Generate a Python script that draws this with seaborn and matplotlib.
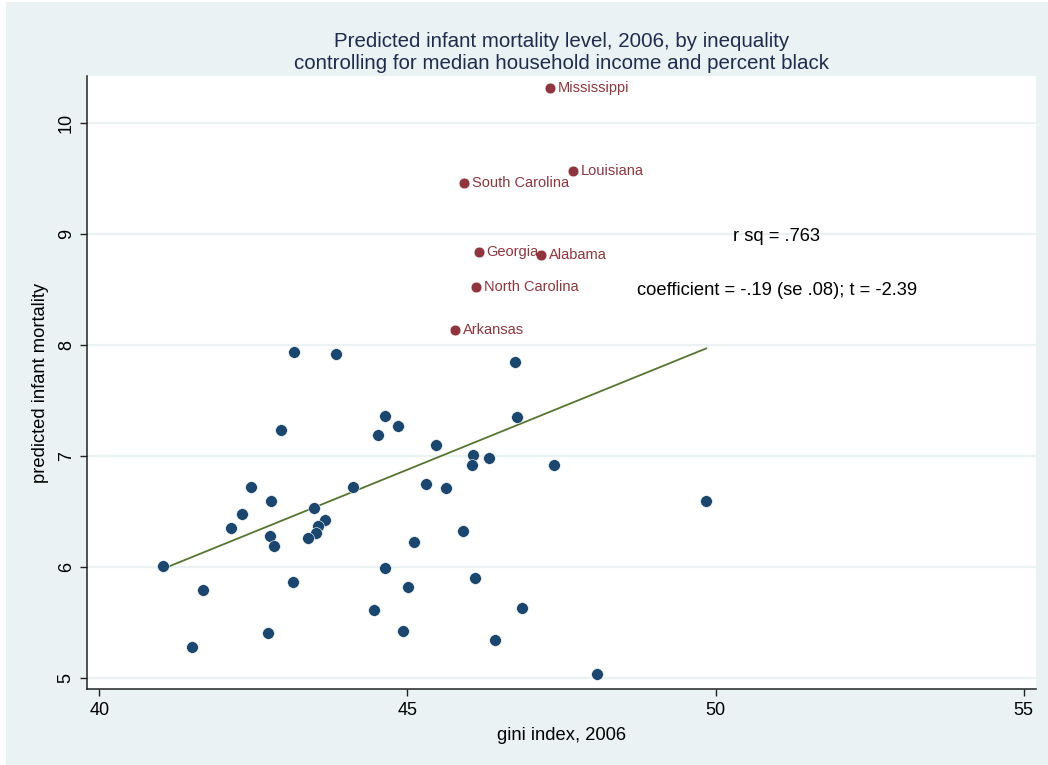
import matplotlib
matplotlib.use("Agg")
import matplotlib.pyplot as plt
import seaborn as sns
import pandas as pd
from matplotlib.patches import Rectangle

# ---- data ----
gini = [43.16, 43.84, 44.63, 42.95, 44.53, 42.46, 44.12, 42.78, 43.48, 42.31,
        43.67, 43.55, 42.14, 43.52, 42.77, 43.39, 42.83, 41.03, 44.63, 43.15,
        41.69, 44.46, 42.74, 41.50, 46.74, 46.78, 44.85, 45.46, 46.06, 46.33,
        46.04, 47.37, 45.30, 45.63, 45.90, 45.11, 46.09, 45.01, 46.86, 44.93,
        46.42, 48.08, 49.84]
mortality = [7.94, 7.92, 7.36, 7.23, 7.19, 6.72, 6.72, 6.59, 6.53, 6.48,
             6.42, 6.37, 6.35, 6.30, 6.28, 6.26, 6.19, 6.01, 5.99, 5.86,
             5.79, 5.61, 5.40, 5.28, 7.85, 7.35, 7.27, 7.10, 7.01, 6.98,
             6.92, 6.92, 6.75, 6.71, 6.32, 6.22, 5.90, 5.82, 5.63, 5.42,
             5.34, 5.03, 6.59]

south_states = ["Mississippi", "Louisiana", "South Carolina", "Georgia",
                "Alabama", "North Carolina", "Arkansas"]
south_gini = [47.31, 47.68, 45.92, 46.16, 47.17, 46.11, 45.77]
south_mortality = [10.32, 9.57, 9.46, 8.84, 8.815, 8.52, 8.14]

fit_x = [41.03, 49.85]
fit_y = [5.98, 7.97]

x_ticks = [40, 45, 50, 55]
y_ticks = [5, 6, 7, 8, 9, 10]

title = ("Predicted infant mortality level, 2006, by inequality\n"
         "controlling for median household income and percent black")
xlabel = "gini index, 2006"
ylabel = "predicted infant mortality"
note1 = "r sq = .763"
note2 = "coefficient = -.19 (se .08); t = -2.39"

# ---- style ----
sns.set_theme(style="white")
plt.rcParams["font.family"] = ["Liberation Sans", "DejaVu Sans"]

BG = "#EAF2F3"
BLUE = "#1a476f"
RED = "#90353b"
GREEN = "#55752f"
NAVY = "#1e2c4f"

W, H = 1048, 765
fig = plt.figure(figsize=(W / 100, H / 100), dpi=100, facecolor="white")
fig.patches.append(Rectangle((6 / W, 0), 1 - 6 / W, 1 - 2 / H,
                             transform=fig.transFigure, facecolor=BG,
                             edgecolor="none", zorder=-10))

ax = fig.add_axes([87.3 / W, 1 - 689.3 / H, (1035.7 - 87.3) / W, (689.3 - 76) / H])
ax.set_facecolor("white")

df_main = pd.DataFrame({"gini": gini, "mort": mortality})
df_south = pd.DataFrame({"gini": south_gini, "mort": south_mortality,
                         "state": south_states})
df_fit = pd.DataFrame({"gini": fit_x, "mort": fit_y})

sns.lineplot(data=df_fit, x="gini", y="mort", color=GREEN, linewidth=1.3,
             ax=ax, zorder=2)
sns.scatterplot(data=df_main, x="gini", y="mort", color=BLUE, s=72,
                edgecolor="white", linewidth=0.4, ax=ax, zorder=3)
sns.scatterplot(data=df_south, x="gini", y="mort", color=RED, s=60,
                edgecolor="white", linewidth=0.4, ax=ax, zorder=3)

for st, gx, my in zip(south_states, south_gini, south_mortality):
    ax.annotate(st, (gx, my), xytext=(5.5, 0), textcoords="offset points",
                ha="left", va="center", color=RED, fontsize=10.5, zorder=4)

ax.text(50.99, 8.983, note1, ha="center", va="center", fontsize=13.2,
        color="black")
ax.text(50.99, 8.49, note2, ha="center", va="center", fontsize=13.2,
        color="black")

ax.set_xlim(39.805, 55.194)
ax.set_ylim(4.894, 10.427)
ax.set_xticks(x_ticks)
ax.set_yticks(y_ticks)
ax.set_xticklabels([str(t) for t in x_ticks], fontsize=13)
ax.set_yticklabels([str(t) for t in y_ticks], fontsize=13, rotation=90,
                   va="center")
ax.tick_params(axis="both", direction="out", length=5, width=1.0,
               color="#222222", labelcolor="black", pad=4)
ax.tick_params(axis="x", bottom=True)
ax.tick_params(axis="y", left=True)

ax.grid(axis="y", color=BG, linewidth=1.6)
ax.grid(axis="x", visible=False)
ax.set_axisbelow(True)

for side in ["top", "right"]:
    ax.spines[side].set_visible(False)
for side in ["left", "bottom"]:
    ax.spines[side].set_visible(True)
    ax.spines[side].set_color("#222222")
    ax.spines[side].set_linewidth(1.1)

ax.set_xlabel(xlabel, fontsize=13.2, color="black", labelpad=6)
ax.set_ylabel(ylabel, fontsize=13.2, color="black", labelpad=6)

fig.text((87.3 + 1035.7) / 2 / W, 1 - 52.5 / H, title, ha="center",
         va="center", fontsize=14.8, color=NAVY, linespacing=1.15)

fig.savefig("out.png", dpi=100, facecolor=fig.get_facecolor())
